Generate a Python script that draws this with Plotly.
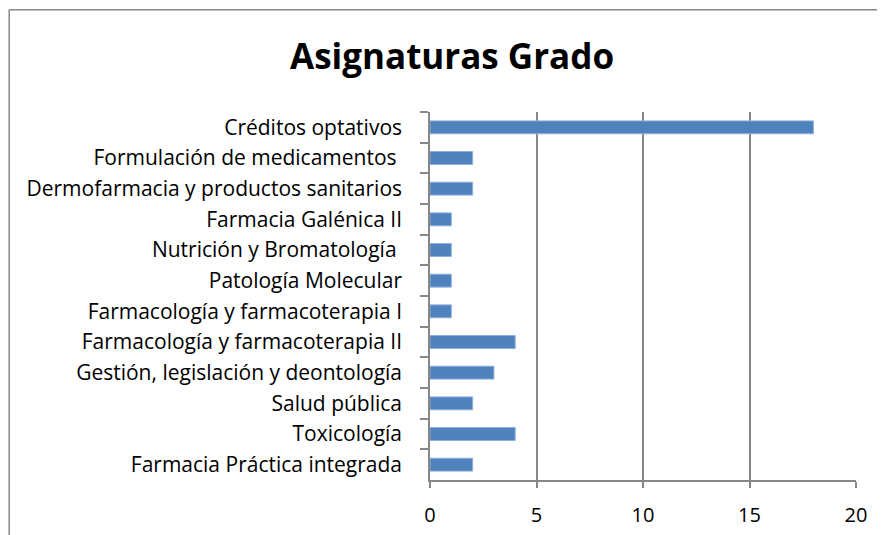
import plotly.graph_objects as go

categories = [
    "Créditos optativos",
    "Formulación de medicamentos ",
    "Dermofarmacia y productos sanitarios",
    "Farmacia Galénica II",
    "Nutrición y Bromatología ",
    "Patología Molecular",
    "Farmacología y farmacoterapia I",
    "Farmacología y farmacoterapia II",
    "Gestión, legislación y deontología",
    "Salud pública",
    "Toxicología",
    "Farmacia Práctica integrada",
]
values = [18, 2, 2, 1, 1, 1, 1, 4, 3, 2, 4, 2]
x_ticks = [0, 5, 10, 15, 20]

title_text = "Asignaturas Grado"

# page has an 8px body margin; figure is sized to fit the window
OFF = 8
W, H = 885 - OFF, 535 - OFF
# plot area in page pixels
PX0, PX1, PY0, PY1 = 429.5, 855.7, 112.3, 480.3
L = PX0 - OFF
R = W - (PX1 - OFF)
T = PY0 - OFF
B = H - (PY1 - OFF)
pw, ph = W - L - R, H - T - B

def px_x(x):
    return (x - PX0) / pw

def px_y(y):
    return 1 - (y - PY0) / ph

font_family = "'Open Sans', sans-serif"
grid_col = "#868686"

fig = go.Figure(
    go.Bar(
        x=values,
        y=categories,
        orientation="h",
        marker=dict(color="#4F81BD", line=dict(color="#8DB0DA", width=1)),
        width=0.42,
    )
)

fig.update_layout(
    width=W,
    height=H,
    margin=dict(l=L, r=R, t=T, b=B, pad=0),
    paper_bgcolor="white",
    plot_bgcolor="white",
    showlegend=False,
    font=dict(family=font_family, size=20, color="black"),
    annotations=[
        dict(
            text="<b>" + title_text + "</b>",
            x=px_x(451.5), y=px_y(55.5),
            xref="paper", yref="paper",
            xanchor="center", yanchor="middle",
            showarrow=False,
            font=dict(family=font_family, size=35, color="black"),
        )
    ],
    shapes=[
        dict(type="line", xref="paper", yref="paper",
             x0=px_x(8.5), x1=px_x(8.5), y0=px_y(540), y1=px_y(10),
             line=dict(color="#888888", width=1.5)),
        dict(type="line", xref="paper", yref="paper",
             x0=px_x(8.5), x1=px_x(890), y0=px_y(10), y1=px_y(10),
             line=dict(color="#888888", width=1.5)),
    ],
)

fig.update_xaxes(
    range=[0, 20],
    tickvals=x_ticks,
    ticktext=[str(v) for v in x_ticks],
    showgrid=True,
    gridcolor=grid_col,
    gridwidth=1.5,
    showline=True,
    linecolor=grid_col,
    linewidth=1.5,
    ticks="outside",
    ticklen=6,
    tickcolor=grid_col,
    tickwidth=1.5,
    ticklabelstandoff=10,
    zeroline=False,
    automargin=False,
    tickfont=dict(size=20),
)

fig.update_yaxes(
    autorange="reversed",
    showgrid=False,
    showline=True,
    linecolor=grid_col,
    linewidth=1.5,
    ticks="outside",
    ticklen=8,
    tickcolor=grid_col,
    tickwidth=1.5,
    tickson="boundaries",
    ticklabelstandoff=22,
    automargin=False,
    tickfont=dict(size=21),
)

fig.write_html("out.html")
